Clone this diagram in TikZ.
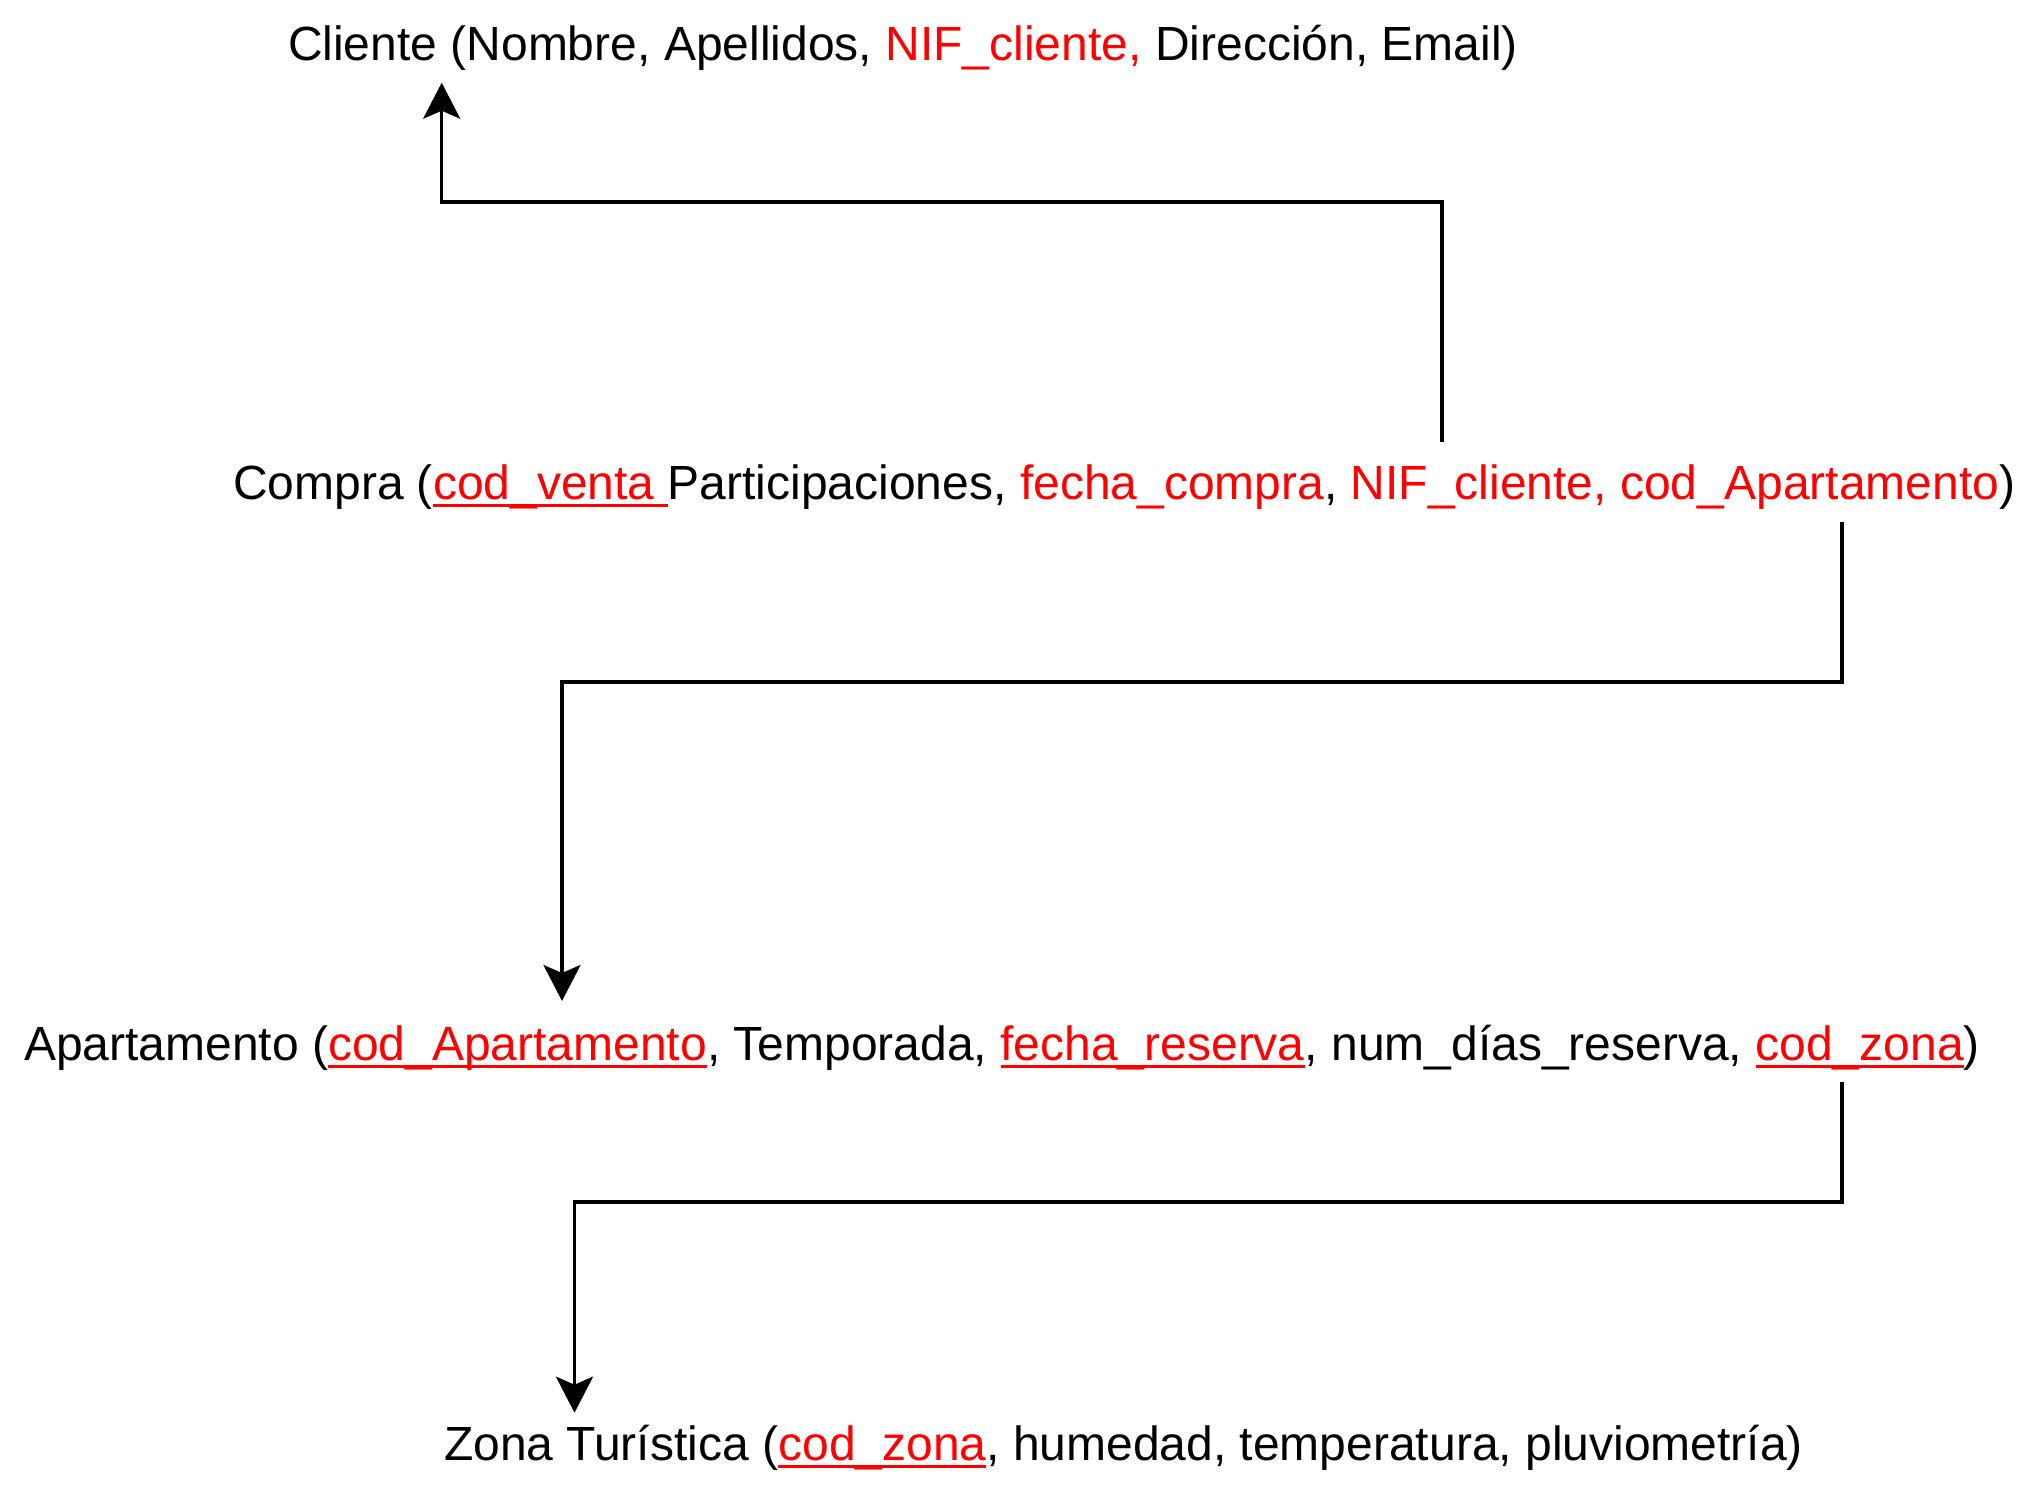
\documentclass[tikz,border=0pt]{standalone}
\usepackage{fontspec}
\setmainfont{Liberation Sans}
\usetikzlibrary{arrows.meta}
\definecolor{keyred}{HTML}{FF0000}
\newcommand\redul[1]{{\color{keyred}\setbox0\hbox{#1}\rlap{\rule[-8pt]{\wd0}{3pt}}\box0}}
\newcommand\redtx[1]{{\color{keyred}#1}}
\begin{document}
\begin{tikzpicture}[x=1pt,y=-1pt,
  rel/.style={anchor=base west,inner sep=0pt,outer sep=0pt,font=\fontsize{48}{58}\selectfont},
  conn/.style={line width=3.5pt,-{Stealth[length=36pt,width=37pt,inset=8pt]}}]
\useasboundingbox (0,0) rectangle (2044,1484);
\node[rel] (cliente) at (288,60) {Cliente (Nombre, Apellidos, \redtx{NIF\_cliente,} Dirección, Email)};
\node[rel] (compra) at (233,499) {Compra (\redul{cod\_venta\ }Participaciones, \redtx{fecha\_compra}, \redtx{NIF\_cliente, cod\_Apartamento})};
\node[rel] (apto) at (24,1060) {Apartamento (\redul{cod\_Apartamento}, Temporada, \redul{fecha\_reserva}, num\_días\_reserva, \redul{cod\_zona})};
\node[rel] (zona) at (444,1460) {Zona Turística (\redul{cod\_zona}, humedad, temperatura, pluviometría)};
% connector end points
\coordinate (s1) at (1442,441.7);
\coordinate (e1) at (441.7,82.7);
\coordinate (s2) at (1842,521.7);
\coordinate (e2) at (562,1001);
\coordinate (s3) at (1842,1081.7);
\coordinate (e3) at (574.5,1412.7);
\draw[conn] (s1) -- (s1 |- 0,202) -- (e1 |- 0,202) -- (e1);
\draw[conn] (s2) -- (s2 |- 0,682) -- (e2 |- 0,682) -- (e2);
\draw[conn] (s3) -- (s3 |- 0,1202) -- (e3 |- 0,1202) -- (e3);
\end{tikzpicture}
\end{document}
